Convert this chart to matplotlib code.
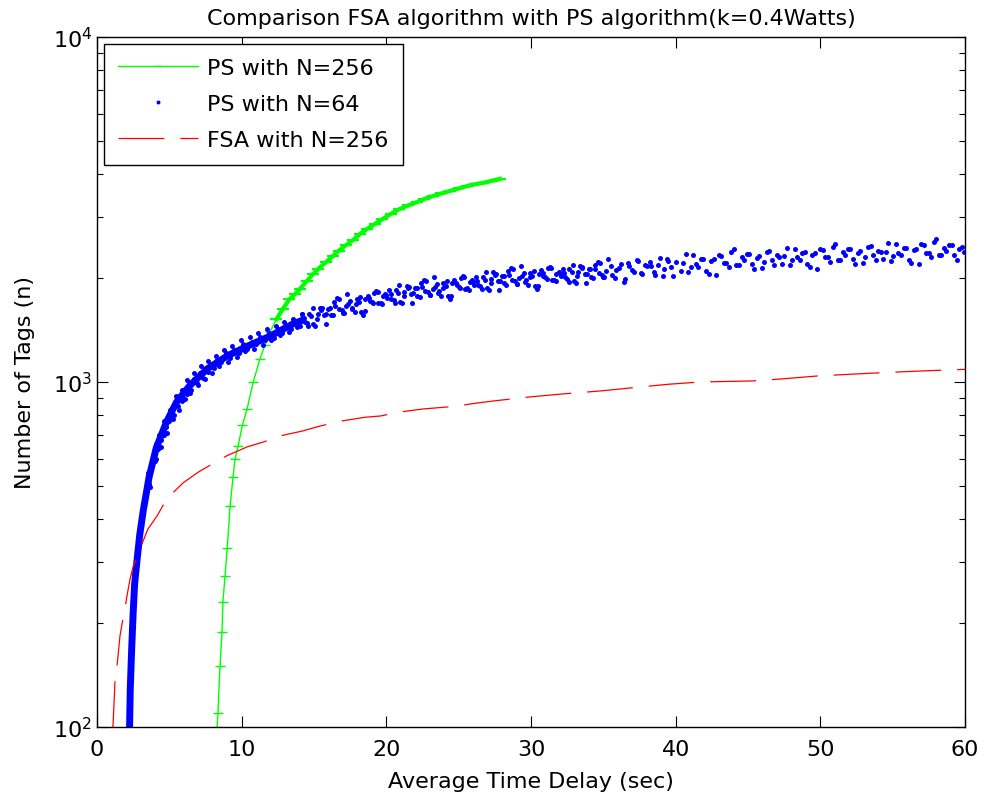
import matplotlib
matplotlib.use('Agg')
import matplotlib.pyplot as plt

plt.rcParams['font.family'] = ['DejaVu Sans']
plt.rcParams['lines.scale_dashes'] = False

# PS with N=256 (green)
green_x = [8.30, 8.36, 8.50, 8.64, 8.70, 8.85, 9.00, 9.20, 9.40, 9.54, 9.75, 10.05, 10.37, 10.80,
           11.26, 11.60, 11.96, 12.40, 12.85, 13.30, 13.70, 14.03, 14.50, 14.90, 15.30, 15.80,
           16.30, 16.70, 17.20, 17.70, 18.20, 18.66, 19.20, 19.70, 20.30, 20.90, 21.50, 22.10,
           22.60, 23.20, 23.80, 24.40, 25.00, 25.60, 26.10, 26.70, 27.30, 27.85]
green_y = [100, 110, 150, 188, 230, 274, 330, 437, 530, 598, 652, 750, 835, 1000,
           1166, 1280, 1397, 1520, 1630, 1738, 1800, 1862, 1960, 2050, 2130, 2220,
           2317, 2400, 2490, 2580, 2690, 2776, 2870, 2960, 3070, 3170, 3250, 3320,
           3390, 3459, 3520, 3580, 3640, 3698, 3740, 3780, 3830, 3880]

# PS with N=64 (blue dots) - centre of the dense lower band
band_x = [2.25, 2.30, 2.40, 2.50, 2.60, 2.75, 2.95, 3.20, 3.60, 4.10, 4.80, 5.50, 6.40, 7.60,
          9.00, 10.40, 12.00, 13.50, 14.20]
band_y = [100, 130, 170, 215, 260, 300, 360, 425, 530, 645, 765, 875, 975, 1090,
          1190, 1270, 1360, 1470, 1510]

# lower band dots (x < 14)
low_x = [2.30, 2.35, 2.40, 2.45, 2.50, 2.55, 2.60, 2.70, 2.80, 2.90, 3.00, 3.10, 3.20, 3.30,
         3.40, 3.50, 3.60, 3.70, 3.80, 3.90, 4.00, 4.10, 4.20, 4.30, 4.40, 4.50, 4.60, 4.70,
         4.80, 4.90, 5.00, 5.20, 5.30, 5.50, 5.60, 5.80, 5.90, 6.10, 6.20, 6.40, 6.50, 6.70,
         6.90, 7.10, 7.30, 7.50, 7.70, 7.90, 8.10, 8.30, 8.60, 8.90, 9.20, 9.50, 9.80, 10.10,
         10.40, 10.70, 11.00, 11.30, 11.60, 11.90, 12.20, 12.50, 12.80, 13.10, 13.40, 13.70,
         14.00,
         3.50, 3.65, 3.85, 4.05, 4.25, 4.45, 4.65, 4.85, 5.05, 5.25, 5.45, 5.65, 5.85, 6.05,
         6.25, 6.45, 6.70, 6.95, 7.20, 7.45, 7.70, 7.95, 8.20, 8.45, 8.75, 9.05, 9.35, 9.65,
         9.95, 10.25, 10.55, 10.85, 11.15, 11.45, 11.75, 12.05, 12.35, 12.65, 12.95, 13.25,
         13.55, 13.85]
low_y = [105, 140, 175, 200, 230, 250, 270, 290, 320, 345, 375, 400, 430, 450,
         470, 520, 505, 560, 575, 600, 590, 660, 640, 690, 680, 720, 700, 760,
         740, 790, 770, 830, 800, 880, 850, 910, 880, 950, 920, 990, 950, 1020,
         990, 1060, 1030, 1100, 1070, 1130, 1100, 1160, 1140, 1210, 1170, 1240, 1210, 1290,
         1250, 1310, 1290, 1350, 1320, 1390, 1340, 1420, 1390, 1460, 1420, 1490,
         1450,
         545, 495, 610, 600, 700, 650, 770, 710, 830, 780, 910, 830, 950, 890,
         1010, 930, 1060, 980, 1110, 1020, 1150, 1060, 1190, 1110, 1240, 1140, 1270, 1180,
         1320, 1230, 1350, 1250, 1390, 1280, 1420, 1320, 1450, 1370, 1490, 1400,
         1520, 1440]

# scattered dots, 14 < x < 40
mid_x = [14.20, 14.50, 14.80, 15.10, 15.40, 15.70, 16.00, 16.30, 16.60, 16.90, 17.20, 17.50,
         17.80, 18.10, 18.40, 18.70, 19.00, 19.30, 19.60, 19.90, 20.20, 20.50, 20.80, 21.10,
         21.40, 21.70, 22.00, 22.30, 22.60, 22.90, 23.20, 23.50, 23.80, 24.10, 24.40, 24.70,
         25.00, 25.30, 25.60, 25.90, 26.20, 26.50, 26.80, 27.10, 27.40, 27.70, 28.00, 28.30,
         28.60, 28.90, 29.20, 29.50, 29.80, 30.10, 30.40, 30.70, 31.00, 31.30, 31.60, 31.90,
         32.20, 32.50, 32.80, 33.10, 33.40, 33.70, 34.00, 34.30, 34.60, 34.90, 35.20, 35.50,
         35.80, 36.10, 36.40, 36.70, 37.00, 37.30, 37.60, 37.90, 38.20, 38.50, 38.80, 39.10,
         39.40, 39.70, 40.00,
         14.35, 14.65, 14.95, 15.25, 15.55, 15.85, 16.15, 16.45, 16.75, 17.05, 17.35, 17.65,
         17.95, 18.25, 18.55, 18.85, 19.15, 19.45, 19.75, 20.05, 20.35, 20.65, 20.95, 21.25,
         21.55, 21.85, 22.15, 22.45, 22.75, 23.05, 23.35, 23.65, 23.95, 24.25, 24.55, 24.85,
         25.15, 25.45, 25.75, 26.05, 26.35, 26.65, 26.95, 27.25, 27.55, 27.85, 28.15, 28.45,
         28.75, 29.05, 29.35, 29.65, 29.95, 30.25, 30.55, 30.85, 31.15, 31.45, 31.75, 32.05,
         32.35, 32.65, 32.95, 33.25, 33.55, 33.85, 34.15, 34.45, 34.75, 35.05,
         14.30, 14.60, 14.90, 15.20, 15.50, 15.80, 16.10, 16.40, 16.70, 17.00, 17.30, 17.60,
         17.90, 18.20, 18.50, 18.80, 19.10, 19.40, 19.70, 20.00, 20.30, 20.60, 20.90, 21.20,
         21.50, 21.80, 22.10, 22.40, 22.70, 23.00, 23.30, 23.60, 23.90, 24.20, 24.50, 24.80,
         25.10, 25.40, 25.70, 26.00, 26.30, 26.60, 26.90, 27.20, 27.50, 27.80, 28.10, 28.40,
         28.70, 29.00, 29.30, 29.60, 29.90, 30.20, 30.50, 30.80, 31.10, 31.40, 31.70, 32.00,
         32.30, 32.60, 32.90, 33.20, 33.50, 33.80, 34.10, 34.40, 34.70, 35.00, 35.30, 35.60,
         35.90, 36.20, 36.50, 36.80, 37.10, 37.40, 37.70, 38.00, 38.30, 38.60, 38.90, 39.20,
         39.50, 39.80]
mid_y = [1570, 1479, 1555, 1457, 1643, 1564, 1632, 1560, 1749, 1617, 1660, 1720,
         1596, 1707, 1564, 1778, 1703, 1839, 1698, 1795, 1846, 1731, 1813, 1697,
         1900, 1802, 1867, 1766, 1974, 1818, 1860, 1926, 1781, 1904, 1739, 1976,
         1891, 2030, 1867, 1969, 2018, 1892, 1980, 1852, 2079, 1965, 2030, 1915,
         2138, 1961, 2005, 2068, 1911, 2035, 1858, 2105, 2010, 2158, 1979, 2085,
         2132, 1993, 2081, 1940, 2174, 2055, 2122, 2001, 2234, 2049, 2095, 2166,
         2003, 2133, 1950, 2209, 2107, 2261, 2076, 2187, 2234, 2087, 2182, 2034,
         2279, 2154, 2224,
         1488, 1578, 1468, 1574, 1635, 1574, 1564, 1663, 1741, 1589, 1682, 1642,
         1736, 1593, 1739, 1715, 1814, 1690, 1773, 1750, 1744, 1844, 1710, 1826,
         1888, 1807, 1780, 1879, 1961, 1784, 1884, 1835, 1936, 1775, 1933, 1905,
         2008, 1862, 1947, 1916, 1906, 2014, 1867, 1995, 2061, 1968, 1932, 2036,
         2120, 1923, 2026, 1970, 2074, 1897, 2062, 2027, 2136, 1977, 2062, 2026,
         2012, 2120, 1959, 2088, 2156, 2057, 2020, 2128, 2215, 2009,
         1530, 1454, 1636, 1524, 1617, 1474, 1640, 1709, 1624, 1587, 1796, 1623,
         1683, 1761, 1601, 1747, 1691, 1827, 1683, 1783, 1796, 1699, 1906, 1770,
         1867, 1695, 1870, 1933, 1830, 1783, 2012, 1815, 1878, 1962, 1779, 1941,
         1874, 2014, 1850, 1952, 1962, 1855, 2081, 1934, 2041, 1848, 2032, 2096,
         1979, 1922, 2166, 1950, 2013, 2098, 1900, 2067, 1991, 2139, 1959, 2065,
         2073, 1954, 2185, 2024, 2134, 1932, 2123, 2189, 2068, 2009, 2265, 2042,
         2109, 2200, 1994, 2168, 2087, 2242, 2055, 2166, 2170, 2047, 2291, 2122,
         2237, 2025]

# scattered dots, 40 < x < 60
high_x = [40.35, 40.70, 41.05, 41.40, 41.75, 42.10, 42.45, 42.80, 43.15, 43.50, 43.85, 44.20,
          44.55, 44.90, 45.25, 45.60, 45.95, 46.30, 46.65, 47.00, 47.35, 47.70, 48.05, 48.40,
          48.75, 49.10, 49.45, 49.80, 50.15, 50.50, 50.85, 51.20, 51.55, 51.90, 52.25, 52.60,
          52.95, 53.30, 53.65, 54.00, 54.35, 54.70, 55.05, 55.40, 55.75, 56.10, 56.45, 56.80,
          57.15, 57.50, 57.85, 58.20, 58.55, 58.90, 59.25, 59.60, 59.95,
          40.52, 40.87, 41.22, 41.57, 41.92, 42.27, 42.62, 42.97, 43.32, 43.67, 44.02, 44.37,
          44.72, 45.07, 45.42, 45.77, 46.12, 46.47, 46.82, 47.17, 47.52, 47.87, 48.22, 48.57,
          48.92, 49.27, 49.62, 49.97, 50.32, 50.67, 51.02, 51.37, 51.72, 52.07, 52.42, 52.77,
          53.12, 53.47, 53.82, 54.17, 54.52, 54.87, 55.22, 55.57, 55.92, 56.27, 56.62, 56.97,
          57.32, 57.67, 58.02, 58.37, 58.72, 59.07, 59.42, 59.77]
high_y = [2099, 2344, 2153, 2202, 2274, 2103, 2241, 2047, 2320, 2215, 2378, 2181,
          2297, 2346, 2193, 2288, 2134, 2388, 2255, 2329, 2196, 2452, 2250, 2300,
          2373, 2193, 2335, 2130, 2412, 2299, 2466, 2259, 2380, 2430, 2270, 2367,
          2206, 2469, 2331, 2405, 2268, 2532, 2322, 2373, 2448, 2261, 2408, 2196,
          2487, 2371, 2542, 2328, 2450, 2500, 2334, 2432, 2386,
          2210, 2084, 2331, 2161, 2277, 2061, 2266, 2339, 2212, 2150, 2426, 2183,
          2254, 2348, 2127, 2312, 2227, 2390, 2189, 2308, 2313, 2179, 2436, 2256,
          2375, 2148, 2359, 2433, 2297, 2231, 2513, 2261, 2335, 2432, 2201, 2392,
          2302, 2471, 2262, 2384, 2388, 2249, 2513, 2328, 2449, 2215, 2434, 2508,
          2369, 2300, 2591, 2329, 2403, 2501, 2263, 2457]

# FSA with N=256 (red dashed)
red_x = [1.10, 1.24, 1.38, 1.59, 1.73, 1.93, 2.07, 2.28, 2.49, 2.97, 3.52, 4.15, 4.70, 5.30,
         6.00, 7.00, 7.95, 9.00, 10.40, 11.50, 12.80, 14.20, 15.40, 17.00, 18.50, 19.60,
         20.90, 22.50, 24.90, 26.00, 27.40, 29.90, 32.00, 34.80, 37.30, 39.50, 41.70, 45.30,
         47.50, 49.80, 51.50, 53.60, 56.90, 60.00]
red_y = [100, 135, 150, 184, 199, 220, 240, 268, 291, 328, 375, 409, 449, 480,
         512, 548, 578, 612, 649, 670, 700, 721, 745, 772, 790, 797,
         818, 835, 851, 866, 881, 905, 922, 942, 965, 985, 1000, 1007,
         1022, 1041, 1050, 1061, 1076, 1088]

fig = plt.figure(figsize=(9.84, 8.03), dpi=100)
ax = fig.add_axes([0.0986, 0.0934, 0.8821, 0.8593])

ax.plot(green_x, green_y, color=(0, 1, 0), lw=1.0, marker='_', ms=7, mew=1.0,
        label='PS with N=256')
# the upper part of the green curve is a thick jagged band
ax.plot(green_x[17:], green_y[17:], color=(0, 1, 0), lw=3.0, marker='_', ms=9, mew=1.5)
ax.plot(band_x, band_y, color=(0, 0, 1), lw=5, solid_capstyle='round')
dot_style = dict(linestyle='none', marker='o', ms=3.6, mew=0, color=(0, 0, 1))
ax.plot(low_x, low_y, **dot_style)
ax.plot(mid_x, mid_y, **dot_style)
ax.plot(high_x + mid_x[:1], high_y + mid_y[:1], label='PS with N=64', **dot_style)
ax.plot(red_x, red_y, color=(1, 0, 0), lw=0.9, dashes=(33, 11.5), label='FSA with N=256')

ax.set_yscale('log')
ax.set_xlim(0, 60)
ax.set_ylim(100, 10000)
ax.set_xticks([0, 10, 20, 30, 40, 50, 60])
ax.tick_params(which='both', direction='in', top=True, right=True, labelsize=16)
ax.tick_params(axis='x', pad=9)
ax.tick_params(which='major', length=8, width=0.8)
ax.tick_params(which='minor', length=4, width=0.8)
for s in ax.spines.values():
    s.set_linewidth(1.0)

ax.set_title('Comparison FSA algorithm with PS algorithm(k=0.4Watts)', fontsize=16, pad=9)
ax.set_xlabel('Average Time Delay (sec)', fontsize=16, labelpad=8)
ax.set_ylabel('Number of Tags (n)', fontsize=16, labelpad=13)

leg = ax.legend(loc='upper left', fontsize=16, handlelength=3.6, handletextpad=0.4,
                borderpad=0.65, borderaxespad=0.3, labelspacing=0.72, fancybox=False,
                edgecolor='black', framealpha=1, markerscale=0.8)
leg.get_frame().set_linewidth(1.0)

fig.savefig('out.png', dpi=100)
